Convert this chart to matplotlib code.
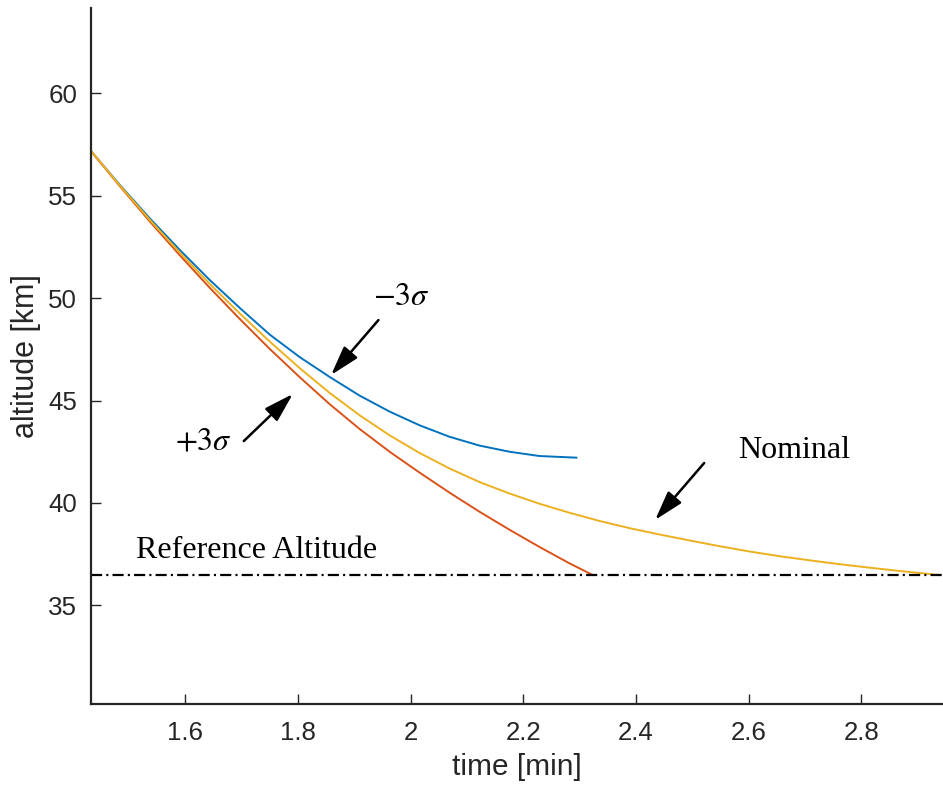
import matplotlib
matplotlib.use("Agg")
import matplotlib.pyplot as plt
from matplotlib.ticker import FormatStrFormatter
from matplotlib.patches import FancyArrowPatch

plt.rcParams['font.family'] = 'Liberation Sans'
plt.rcParams['mathtext.fontset'] = 'stix'
plt.rcParams['lines.scale_dashes'] = False

# altitude [km] against time [min]
t_minus = [1.4329, 1.4843, 1.5374, 1.5906, 1.6438, 1.6970, 1.7501, 1.8033, 1.8565,
           1.9096, 1.9628, 2.0160, 2.0692, 2.1223, 2.1755, 2.2287, 2.2943]
h_minus = [57.18, 55.52, 53.89, 52.35, 50.88, 49.52, 48.22, 47.12, 46.15,
           45.24, 44.46, 43.79, 43.23, 42.80, 42.50, 42.29, 42.21]

t_plus = [1.4329, 1.4843, 1.5374, 1.5906, 1.6438, 1.6970, 1.7501, 1.8033, 1.8565,
          1.9096, 1.9628, 2.0160, 2.0692, 2.1223, 2.1755, 2.2287, 2.2819, 2.3232]
h_plus = [57.18, 55.46, 53.74, 52.09, 50.50, 48.98, 47.52, 46.14, 44.82,
          43.61, 42.50, 41.48, 40.50, 39.57, 38.69, 37.85, 37.05, 36.48]

t_nom = [1.4329, 1.4843, 1.5374, 1.5906, 1.6438, 1.6970, 1.7501, 1.8033, 1.8565,
         1.9096, 1.9628, 2.0160, 2.0692, 2.1223, 2.1755, 2.2287, 2.2819, 2.3350,
         2.3882, 2.4414, 2.4945, 2.5477, 2.6009, 2.6540, 2.7072, 2.7604, 2.8136,
         2.8667, 2.9376]
h_nom = [57.18, 55.49, 53.82, 52.22, 50.69, 49.25, 47.88, 46.58, 45.37,
         44.28, 43.30, 42.44, 41.68, 41.02, 40.46, 39.96, 39.52, 39.12,
         38.77, 38.46, 38.17, 37.89, 37.63, 37.40, 37.20, 37.01, 36.84,
         36.68, 36.48]

ref_alt = 36.48

fig = plt.figure(figsize=(9.43, 7.95), dpi=100)
ax = fig.add_axes([91/943, 91/795, 851/943, 696/795])

ax.plot(t_minus, h_minus, color='#0072BD', lw=1.4)
ax.plot(t_plus, h_plus, color='#D95319', lw=1.4)
ax.plot(t_nom, h_nom, color='#EDB120', lw=1.4)
ax.axhline(ref_alt, color='black', lw=1.6, dashes=(8, 3, 1.5, 3))

ax.set_xlim(1.4329, 2.943)
ax.set_ylim(30.18, 64.17)
ax.set_xticks([1.6, 1.8, 2.0, 2.2, 2.4, 2.6, 2.8])
ax.set_yticks([35, 40, 45, 50, 55, 60])
ax.xaxis.set_major_formatter(FormatStrFormatter('%g'))

for s in ['top', 'right']:
    ax.spines[s].set_visible(False)
for s in ['left', 'bottom']:
    ax.spines[s].set_linewidth(1.6)
    ax.spines[s].set_color('#262626')
ax.tick_params(direction='in', length=7, width=1, color='#262626',
               labelsize=18.6, labelcolor='#262626')
ax.tick_params(axis='x', pad=12)
ax.tick_params(axis='y', pad=10)

ax.set_xlabel('time [min]', fontsize=21.5, color='#262626', labelpad=6)
ax.set_ylabel('altitude [km]', fontsize=22, color='#262626', labelpad=5)

serif = 'Liberation Serif'
ax.text(1.727, 37.31, 'Reference Altitude', family=serif, fontsize=23,
        ha='center', va='baseline')
ax.text(2.681, 42.19, 'Nominal', family=serif, fontsize=23,
        ha='center', va='baseline')
ax.text(1.983, 49.66, r'$-3\sigma$', fontsize=23,
        ha='center', va='baseline')
ax.text(1.632, 42.63, r'$+3\sigma$', fontsize=23,
        ha='center', va='baseline')

arrows = [((1.943, 48.93), (1.859, 46.25)),
          ((1.704, 43.02), (1.791, 45.32)),
          ((2.521, 41.95), (2.434, 39.17))]
for tail, tip in arrows:
    ax.add_patch(FancyArrowPatch(tail, tip, arrowstyle='-|>,head_length=1.0,head_width=0.3',
                                 mutation_scale=18, color='black', lw=1.8,
                                 shrinkA=0, shrinkB=0))

fig.savefig('out.png', dpi=100)
